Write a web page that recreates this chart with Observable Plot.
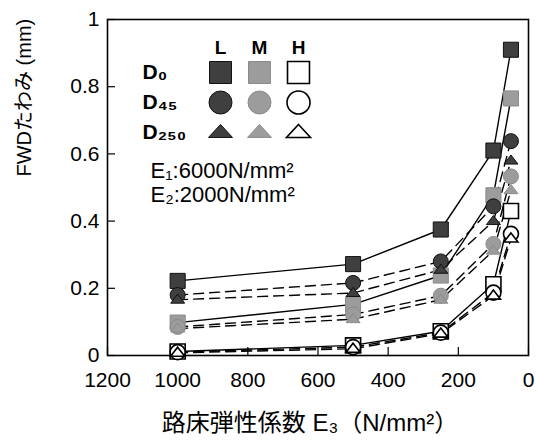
<!DOCTYPE html>
<html>
<head>
<meta charset="utf-8">
<script src="https://cdn.jsdelivr.net/npm/d3@7"></script>
<script src="https://cdn.jsdelivr.net/npm/@observablehq/plot@0.6"></script>
<style>
  body { margin: 0; background: white; }
  #wrap { position: relative; width: 540px; height: 446px; }
  #wrap svg { position: absolute; left: 0; top: 0; }
  #legend { pointer-events: none; }
</style>
</head>
<body>
<div id="wrap"></div>
<script>
// ---- data ----
const E3 = [1000, 500, 250, 100, 50];
const D0_L   = [0.222, 0.272, 0.375, 0.610, 0.910];
const D0_M   = [0.098, 0.152, 0.238, 0.477, 0.765];
const D0_H   = [0.012, 0.030, 0.072, 0.212, 0.430];
const D45_L  = [0.180, 0.216, 0.280, 0.444, 0.638];
const D45_M  = [0.085, 0.122, 0.178, 0.332, 0.533];
const D45_H  = [0.010, 0.025, 0.068, 0.187, 0.362];
const D250_L = [0.166, 0.186, 0.255, 0.400, 0.580];
const D250_M = [0.080, 0.108, 0.166, 0.312, 0.492];
const D250_H = [0.008, 0.020, 0.065, 0.178, 0.348];

const levels = ["L", "M", "H"];
const sensors = ["D0", "D45", "D250"];
const sensorLabels = {D0: "D₀", D45: "D₄₅", D250: "D₂₅₀"};
const xTicks = [1200, 1000, 800, 600, 400, 200, 0];
const yTicks = [0, 0.2, 0.4, 0.6, 0.8, 1];
const xLabel = "路床弾性係数 E₃（N/mm²）";
const yLabel = "FWDたわみ (mm)";
const noteLines = ["E₁:6000N/mm²", "E₂:2000N/mm²"];

const seriesTable = [
  {sensor: "D0", level: "L", values: D0_L},
  {sensor: "D0", level: "M", values: D0_M},
  {sensor: "D0", level: "H", values: D0_H},
  {sensor: "D45", level: "L", values: D45_L},
  {sensor: "D45", level: "M", values: D45_M},
  {sensor: "D45", level: "H", values: D45_H},
  {sensor: "D250", level: "L", values: D250_L},
  {sensor: "D250", level: "M", values: D250_M},
  {sensor: "D250", level: "H", values: D250_H}
];
const rows = seriesTable.flatMap(s => E3.map((e, i) => ({e3: e, value: s.values[i], sensor: s.sensor, level: s.level})));

// ---- styles ----
const fillOf = {L: "#3f3f3f", M: "#9c9c9c", H: "white"};
const strokeOf = {L: "#111", M: "#8a8a8a", H: "black"};
function tri(k) {
  return {draw(ctx, size) {
    const r = Math.sqrt(size / Math.PI), h = r * k;
    ctx.moveTo(0, -h * 0.62); ctx.lineTo(r, h * 0.38); ctx.lineTo(-r, h * 0.38); ctx.closePath();
  }};
}
const font = "'Liberation Sans', Arial, 'Noto Sans CJK JP', sans-serif";

function dotMarks(data, xKey, yKey, sizes, triK) {
  const marks = [];
  for (const s of sensors) for (const l of levels) {
    const symbol = s === "D0" ? "square" : s === "D45" ? "circle" : tri(triK);
    marks.push(Plot.dot(data.filter(d => d.sensor === s && d.level === l), {
      x: xKey, y: yKey, symbol, r: sizes[s],
      fill: fillOf[l], stroke: strokeOf[l], strokeWidth: l === "H" ? 1.6 : 1
    }));
  }
  return marks;
}

const main = Plot.plot({
  width: 540, height: 446,
  marginLeft: 107, marginRight: 12, marginTop: 19, marginBottom: 91,
  style: {fontFamily: font, fontSize: "21px", color: "black", background: "white", overflow: "visible"},
  x: {domain: [1200, 0]},
  y: {domain: [0, 1]},
  marks: [
    Plot.tickX(xTicks, {x: d => d, stroke: "black", strokeWidth: 1.2, insetTop: 328}),
    Plot.tickY(yTicks, {y: d => d, stroke: "black", strokeWidth: 1.2, insetRight: 413}),
    Plot.axisX({ticks: xTicks, tickSize: 0, tickPadding: 17, label: null, tickFormat: d => String(d)}),
    Plot.axisY({ticks: yTicks, tickSize: 0, tickPadding: 8, label: null, tickFormat: d => String(d)}),
    Plot.frame({stroke: "black", strokeWidth: 1.6}),
    Plot.line(rows.filter(d => d.sensor === "D0"), {x: "e3", y: "value", z: d => d.sensor + d.level, stroke: "black", strokeWidth: 1.4}),
    Plot.line(rows.filter(d => d.sensor !== "D0"), {x: "e3", y: "value", z: d => d.sensor + d.level, stroke: "black", strokeWidth: 1.4, strokeDasharray: "10,6"}),
    ...dotMarks(rows, "e3", "value", {D0: 8.5, D45: 7.5, D250: 7}, 1.3),
    Plot.text([xLabel], {frameAnchor: "bottom", dy: 75, dx: -8, fontSize: 24}),
    Plot.text([yLabel], {frameAnchor: "left", rotate: -90, dx: -83, dy: -11, fontSize: 20})
  ]
});

const legendRows = sensors.flatMap(s => levels.map(l => ({sensor: s, level: l})));
const legend = Plot.plot({
  width: 540, height: 446,
  marginLeft: 0, marginRight: 0, marginTop: 0, marginBottom: 0,
  style: {fontFamily: font, fontSize: "20px", color: "black", background: "transparent", overflow: "visible"},
  x: {type: "point", domain: levels, range: [220, 298], padding: 0, axis: null},
  y: {type: "point", domain: ["hdr", ...sensors], range: [42, 132], padding: 0, axis: null},
  marks: [
    Plot.text(levels, {x: d => d, y: () => "hdr", dy: 5, fontSize: 19, fontWeight: "bold"}),
    Plot.text(sensors, {y: d => d, text: d => sensorLabels[d], frameAnchor: "left", textAnchor: "start", dx: 142, fontSize: 21, fontWeight: "bold"}),
    ...dotMarks(legendRows, "level", "sensor", {D0: 12.4, D45: 11.5, D250: 12}, 1.08),
    Plot.text([noteLines.join("\n")], {frameAnchor: "top-left", textAnchor: "start", lineAnchor: "top", dx: 150, dy: 160, fontSize: 22, lineHeight: 1.1})
  ]
});
legend.id = "legend";

const wrap = document.getElementById("wrap");
wrap.appendChild(main);
wrap.appendChild(legend);
</script>
</body>
</html>
